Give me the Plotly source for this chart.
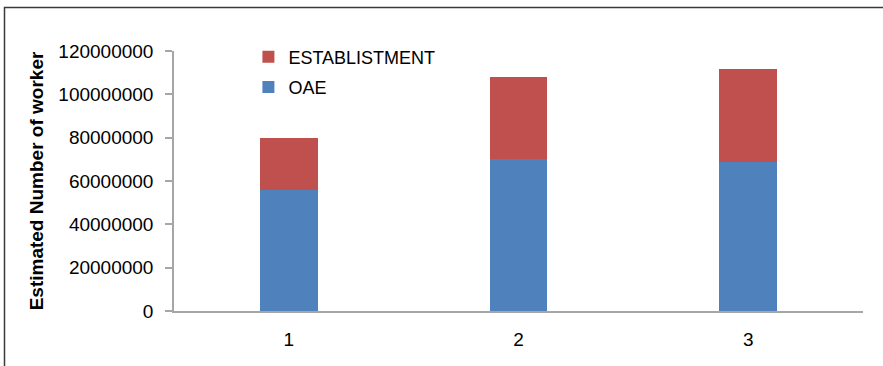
import plotly.graph_objects as go

# Survey rounds and estimated workers (stacked)
categories = ["1", "2", "3"]
oae_workers = [56000000, 70000000, 69000000]
establishment_workers = [24000000, 38000000, 42500000]
y_tick_values = [0, 20000000, 40000000, 60000000, 80000000, 100000000, 120000000]

BLUE = "#4F81BD"
RED = "#C0504D"
AXIS_GRAY = "#a6a6a6"
FONT = "Liberation Sans, Arial, sans-serif"

fig = go.Figure()
fig.add_trace(go.Bar(
    x=categories, y=oae_workers, name="OAE", legendgroup="oae", legendrank=2,
    marker=dict(color=BLUE, line=dict(width=0)), width=0.25,
))
fig.add_trace(go.Bar(
    x=categories, y=establishment_workers, name="ESTABLISTMENT",
    legendgroup="est", legendrank=1,
    marker=dict(color=RED, line=dict(width=0)), width=0.25,
))

fig.update_layout(
    width=883, height=366,
    barmode="stack",
    paper_bgcolor="white", plot_bgcolor="white",
    margin=dict(l=174, r=20, t=51, b=55),
    font=dict(family=FONT, color="#000000", size=19),
    showlegend=True,
    legend=dict(
        traceorder="grouped",
        tracegroupgap=4,
        x=0.108, xanchor="left",
        y=1.048, yanchor="top",
        bgcolor="rgba(0,0,0,0)",
        font=dict(family=FONT, size=18, color="#000000"),
        itemwidth=30,
    ),
    xaxis=dict(
        type="category",
        showgrid=False, zeroline=False,
        showline=True, linecolor=AXIS_GRAY, linewidth=1.5,
        ticks="", ticklabelstandoff=10,
        tickfont=dict(size=19),
    ),
    yaxis=dict(
        range=[0, 120000000],
        tickvals=y_tick_values, tickformat="d",
        showgrid=False, zeroline=False,
        showline=True, linecolor=AXIS_GRAY, linewidth=1.5,
        ticks="outside", ticklen=7, tickcolor=AXIS_GRAY, tickwidth=1.5,
        ticklabelstandoff=8,
        tickfont=dict(size=19),
        title=dict(text="<b>Estimated Number of worker</b>", standoff=10,
                   font=dict(size=19)),
    ),
    shapes=[dict(
        type="rect", xref="paper", yref="paper",
        x0=(4.5 - 174) / 689, x1=(900 - 174) / 689,
        y0=(311 - 380) / 260, y1=(311 - 7.5) / 260,
        line=dict(color="#3a3a3a", width=1.5), fillcolor="rgba(0,0,0,0)",
        layer="above",
    )],
)

fig.write_html("out.html")
